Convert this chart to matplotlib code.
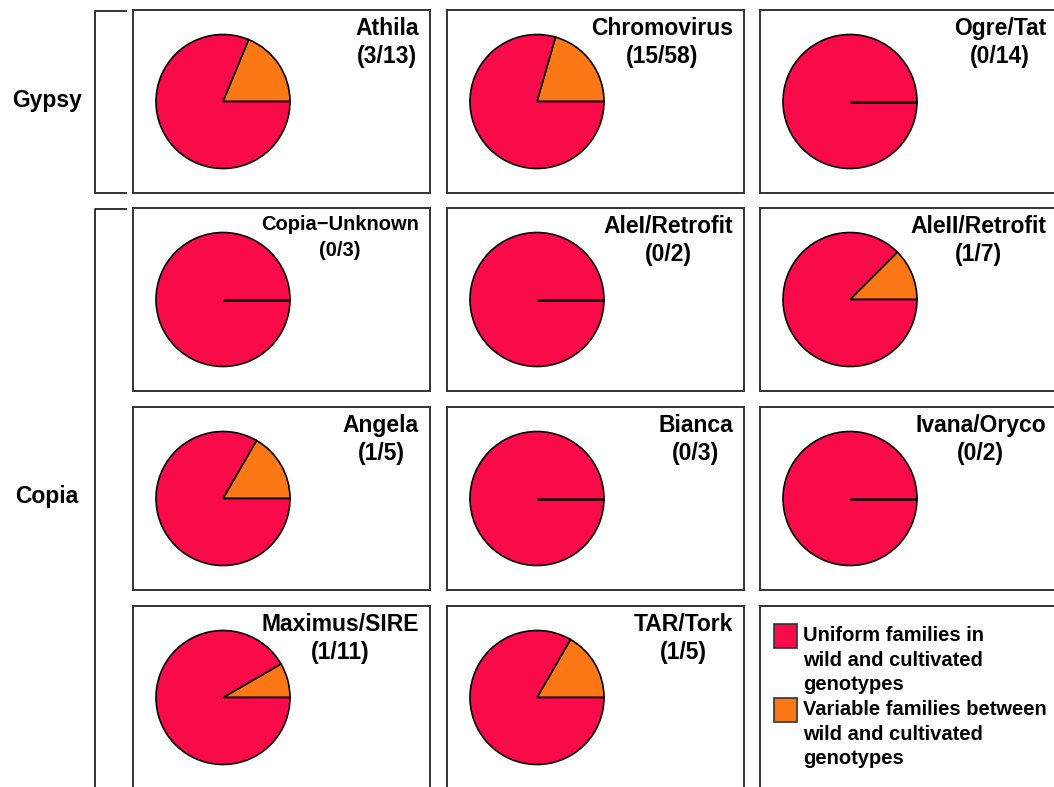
import matplotlib
matplotlib.use("Agg")
import matplotlib.pyplot as plt
from matplotlib.patches import Rectangle
from matplotlib.lines import Line2D
import numpy as np

# Familias de retrotransposones: (variables / uniformes)
gypsy_names = ["Athila", "Chromovirus", "Ogre/Tat"]
gypsy_variable = [3, 15, 0]
gypsy_uniform = [13, 58, 14]

copia_names = ["Copia\u2212Unknown", "AleI/Retrofit", "AleII/Retrofit",
               "Angela", "Bianca", "Ivana/Oryco",
               "Maximus/SIRE", "TAR/Tork"]
copia_variable = [0, 0, 1, 1, 0, 0, 1, 1]
copia_uniform = [3, 2, 7, 5, 3, 2, 11, 5]

legend_labels = ["Uniform families in\nwild and cultivated\ngenotypes",
                 "Variable families between\nwild and cultivated\ngenotypes"]

RED = "#F90B4A"
ORANGE = "#FC7816"
EDGE = "#333333"

W, H = 1054, 787
PW, PH = 297, 183
col_x = [133, 447, 760]
row_y = [10, 208, 407, 606]

plt.rcParams["font.family"] = ["Liberation Sans", "DejaVu Sans"]
plt.rcParams["font.weight"] = "bold"

fig = plt.figure(figsize=(W / 100, H / 100), dpi=100)


def panel(col, row):
    x0, y0 = col_x[col], row_y[row]
    ax = fig.add_axes([x0 / W, 1 - (y0 + PH) / H, PW / W, PH / H])
    return ax


def frame(ax):
    ax.set_xlim(0, PW)
    ax.set_ylim(0, PH)
    ax.set_aspect("auto")
    ax.set_frame_on(True)
    ax.set_xticks([])
    ax.set_yticks([])
    for s in ax.spines.values():
        s.set_color(EDGE)
        s.set_linewidth(1.4)


def draw_pie(ax, name, var, uni, small=False):
    cx, cy, r = 90, PH / 2, 67
    ax.pie([var, uni], colors=[ORANGE, RED], startangle=0, counterclock=True,
           center=(cx, cy), radius=r,
           wedgeprops=dict(edgecolor="black", linewidth=1.2))
    if var == 0:
        # la porcion vacia queda como una linea en el angulo inicial
        ang = np.deg2rad(0)
        ax.plot([cx, cx + r * np.cos(ang)], [cy, cy + r * np.sin(ang)],
                color="black", lw=1.8, solid_capstyle="butt")
    frame(ax)
    fs, ls = (14.5, 1.45) if small else (16.5, 1.3)
    ax.text(PW - 11, PH - 7, f"{name}\n({var}/{uni})", ha="right", va="top",
            multialignment="center", fontsize=fs, fontweight="bold",
            linespacing=ls)


# Gypsy
for i, (n, v, u) in enumerate(zip(gypsy_names, gypsy_variable, gypsy_uniform)):
    draw_pie(panel(i, 0), n, v, u)

# Copia
for i, (n, v, u) in enumerate(zip(copia_names, copia_variable, copia_uniform)):
    draw_pie(panel(i % 3, 1 + i // 3), n, v, u, small=n.startswith("Copia"))

# leyenda
lax = panel(2, 3)
frame(lax)
for k, (lab, col) in enumerate(zip(legend_labels, [RED, ORANGE])):
    top = PH - 18 - k * 74
    lax.add_patch(Rectangle((14, top - 24), 23, 24, facecolor=col,
                            edgecolor=EDGE, linewidth=1.2))
    lax.text(43, top - 2, lab, ha="left", va="top", fontsize=14.5,
             fontweight="bold", linespacing=1.38)

# corchetes de grupos
over = fig.add_axes([0, 0, 1, 1])
over.set_xlim(0, W)
over.set_ylim(H, 0)
over.axis("off")
over.add_line(Line2D([126, 95, 95, 126], [11, 11, 193, 193], color=EDGE, lw=1.4))
over.add_line(Line2D([126, 95, 95], [209, 209, 800], color=EDGE, lw=1.4))
over.text(47, 101, "Gypsy", ha="center", va="center", fontsize=16.5, fontweight="bold")
over.text(47, 497, "Copia", ha="center", va="center", fontsize=16.5, fontweight="bold")

fig.savefig("out.png", dpi=100)
